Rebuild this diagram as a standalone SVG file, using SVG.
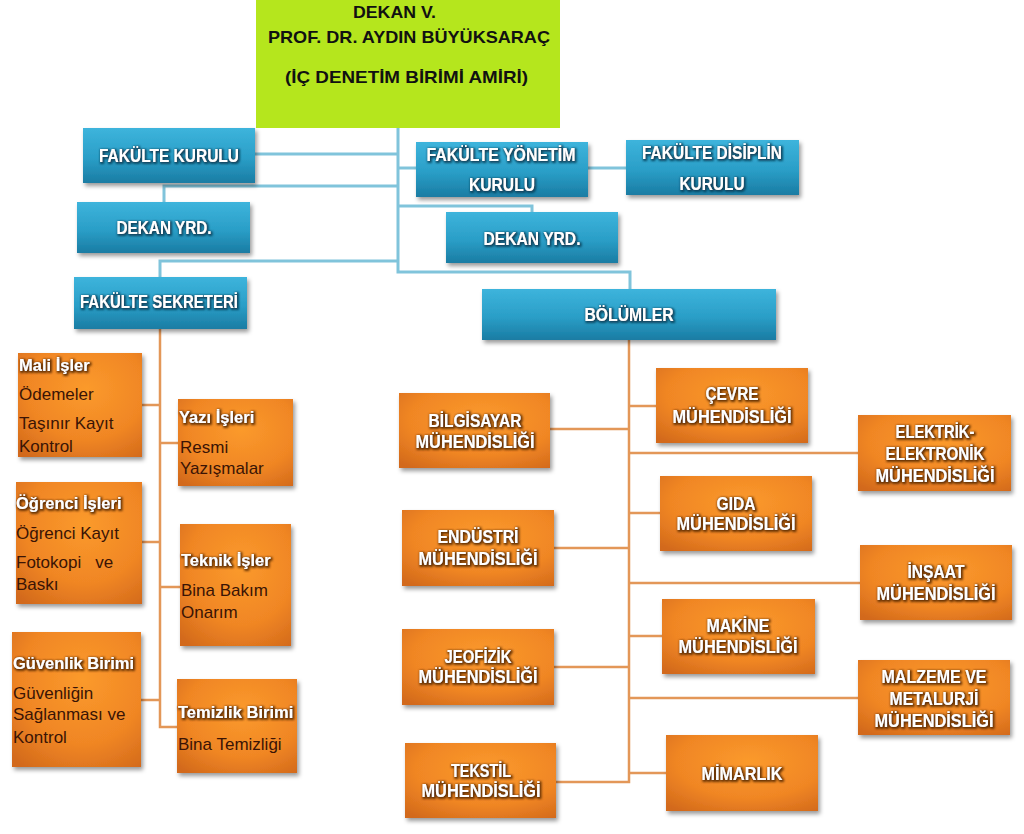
<svg xmlns="http://www.w3.org/2000/svg" width="1024" height="834" viewBox="0 0 1024 834">
<defs>
<linearGradient id="gBlue" x1="0" y1="0" x2="0" y2="1">
<stop offset="0" stop-color="#3db4dc"/>
<stop offset="0.55" stop-color="#2a9ec7"/>
<stop offset="1" stop-color="#1a7ca3"/>
</linearGradient>
<radialGradient id="gOrange" cx="0.55" cy="0.35" r="0.8">
<stop offset="0" stop-color="#fb9a2c"/>
<stop offset="0.6" stop-color="#f08624"/>
<stop offset="1" stop-color="#d2691b"/>
</radialGradient>
<filter id="shadow" x="-10%" y="-10%" width="125%" height="135%">
<feDropShadow dx="2" dy="3" stdDeviation="2" flood-color="#000" flood-opacity="0.4"/>
</filter>
<filter id="haloO" x="-10%" y="-40%" width="120%" height="180%">
<feMorphology in="SourceAlpha" operator="dilate" radius="1" result="d"/>
<feOffset in="d" dx="0.8" dy="0.8" result="o"/>
<feGaussianBlur in="o" stdDeviation="0.9" result="b"/>
<feFlood flood-color="#5a2a05" flood-opacity="0.9"/>
<feComposite in2="b" operator="in" result="s"/>
<feMerge><feMergeNode in="s"/><feMergeNode in="SourceGraphic"/></feMerge>
</filter>
<filter id="haloB" x="-10%" y="-40%" width="120%" height="180%">
<feMorphology in="SourceAlpha" operator="dilate" radius="1" result="d"/>
<feOffset in="d" dx="0.8" dy="0.8" result="o"/>
<feGaussianBlur in="o" stdDeviation="0.9" result="b"/>
<feFlood flood-color="#0b3e57" flood-opacity="0.9"/>
<feComposite in2="b" operator="in" result="s"/>
<feMerge><feMergeNode in="s"/><feMergeNode in="SourceGraphic"/></feMerge>
</filter>
</defs>
<style>
.blue{fill:url(#gBlue);filter:url(#shadow)}
.org{fill:url(#gOrange);filter:url(#shadow)}
.bt{font-family:"Liberation Sans",Arial,sans-serif;font-weight:bold;font-size:19px;fill:#fff;text-anchor:middle;filter:url(#haloB)}
.ot{font-family:"Liberation Sans",Arial,sans-serif;font-weight:bold;font-size:17.5px;fill:#fff;text-anchor:middle;filter:url(#haloO)}
.lt{font-family:"Liberation Sans",Arial,sans-serif;font-weight:bold;font-size:16.5px;fill:#fff;filter:url(#haloO)}
.it{font-family:"Liberation Sans",Arial,sans-serif;font-size:17px;fill:#3a1405}
.gt{font-family:"Liberation Sans",Arial,sans-serif;font-weight:bold;font-size:17px;fill:#111}
.cb{fill:none;stroke:#80c4db;stroke-width:3}
.co{fill:none;stroke:#e39758;stroke-width:2.5}
</style>
<rect width="1024" height="834" fill="#fff"/>

<g id="connectors">
<path class="cb" d="M398 128 V272 H630 V289"/>
<path class="cb" d="M255 154 H398"/>
<path class="cb" d="M398 168 H416"/>
<path class="cb" d="M588 168 H626"/>
<path class="cb" d="M398 186 H164 V202"/>
<path class="cb" d="M398 206 H532 V212"/>
<path class="cb" d="M398 261 H160 V277"/>
<path class="co" d="M160 329 V727 H177"/>
<path class="co" d="M142 405 H160 M160 443 H178 M142 542 H160 M160 587 H180 M141 700 H160"/>
<path class="co" d="M629 340 V782 H556"/>
<path class="co" d="M629 773 H666 M550 429 H629 M629 406 H656 M629 453 H858 M629 513 H660 M554 548 H629 M629 583 H860 M629 636 H662 M554 667 H629 M629 698 H858"/>
</g>

<g id="dekan">
<rect x="256" y="0" width="304" height="128" fill="#b5e61d"/>
<text class="gt" x="353" y="18" textLength="83" lengthAdjust="spacingAndGlyphs">DEKAN V.</text>
<text class="gt" x="268" y="43" textLength="282" lengthAdjust="spacingAndGlyphs">PROF. DR. AYDIN BÜYÜKSARAÇ</text>
<text class="gt" x="285" y="83" textLength="243" lengthAdjust="spacingAndGlyphs">(İÇ DENETİM BİRİMİ AMİRİ)</text>
</g>

<g id="fakulte-kurulu">
<rect class="blue" x="83" y="128" width="172" height="55"/>
<text class="bt" x="169" y="162" textLength="140" lengthAdjust="spacingAndGlyphs">FAKÜLTE KURULU</text>
</g>
<g id="fakulte-yonetim-kurulu">
<rect class="blue" x="416" y="142" width="172" height="55"/>
<text class="bt" x="501" y="161" textLength="149" lengthAdjust="spacingAndGlyphs">FAKÜLTE YÖNETİM</text>
<text class="bt" x="502" y="191" textLength="66" lengthAdjust="spacingAndGlyphs">KURULU</text>
</g>
<g id="fakulte-disiplin-kurulu">
<rect class="blue" x="626" y="140" width="173" height="55"/>
<text class="bt" x="712" y="159" textLength="140" lengthAdjust="spacingAndGlyphs">FAKÜLTE DİSİPLİN</text>
<text class="bt" x="712" y="190" textLength="65" lengthAdjust="spacingAndGlyphs">KURULU</text>
</g>
<g id="dekan-yrd-1">
<rect class="blue" x="77" y="202" width="173" height="51"/>
<text class="bt" x="164" y="234" textLength="95" lengthAdjust="spacingAndGlyphs">DEKAN YRD.</text>
</g>
<g id="dekan-yrd-2">
<rect class="blue" x="446" y="212" width="172" height="51"/>
<text class="bt" x="532" y="245" textLength="97" lengthAdjust="spacingAndGlyphs">DEKAN YRD.</text>
</g>
<g id="fakulte-sekreteri">
<rect class="blue" x="74" y="277" width="173" height="52"/>
<text class="bt" x="159" y="308" textLength="158" lengthAdjust="spacingAndGlyphs">FAKÜLTE SEKRETERİ</text>
</g>
<g id="bolumler">
<rect class="blue" x="482" y="289" width="294" height="51"/>
<text class="bt" x="629" y="321" textLength="89" lengthAdjust="spacingAndGlyphs">BÖLÜMLER</text>
</g>

<g id="mali-isler">
<rect class="org" x="18" y="353" width="124" height="104"/>
<text class="lt" x="19" y="371">Mali İşler</text>
<text class="it" x="19" y="400">Ödemeler</text>
<text class="it" x="19" y="429">Taşınır Kayıt</text>
<text class="it" x="19" y="452">Kontrol</text>
</g>
<g id="yazi-isleri">
<rect class="org" x="178" y="399" width="115" height="87"/>
<text class="lt" x="179" y="423">Yazı İşleri</text>
<text class="it" x="180" y="453">Resmi</text>
<text class="it" x="180" y="474">Yazışmalar</text>
</g>
<g id="ogrenci-isleri">
<rect class="org" x="16" y="482" width="126" height="122"/>
<text class="lt" x="16" y="509">Öğrenci İşleri</text>
<text class="it" x="16" y="539">Öğrenci Kayıt</text>
<text class="it" x="16" y="568" xml:space="preserve">Fotokopi   ve</text>
<text class="it" x="16" y="590">Baskı</text>
</g>
<g id="teknik-isler">
<rect class="org" x="180" y="524" width="111" height="122"/>
<text class="lt" x="181" y="566">Teknik İşler</text>
<text class="it" x="181" y="596">Bina Bakım</text>
<text class="it" x="181" y="618">Onarım</text>
</g>
<g id="guvenlik-birimi">
<rect class="org" x="12" y="632" width="129" height="135"/>
<text class="lt" x="13" y="669">Güvenlik Birimi</text>
<text class="it" x="13" y="699">Güvenliğin</text>
<text class="it" x="13" y="720">Sağlanması ve</text>
<text class="it" x="13" y="743">Kontrol</text>
</g>
<g id="temizlik-birimi">
<rect class="org" x="177" y="679" width="120" height="94"/>
<text class="lt" x="178" y="718">Temizlik Birimi</text>
<text class="it" x="178" y="750">Bina Temizliği</text>
</g>

<g id="bilgisayar">
<rect class="org" x="399" y="393" width="151" height="75"/>
<text class="ot" x="475" y="427" textLength="93" lengthAdjust="spacingAndGlyphs">BİLGİSAYAR</text>
<text class="ot" x="475" y="448" textLength="119" lengthAdjust="spacingAndGlyphs">MÜHENDİSLİĞİ</text>
</g>
<g id="cevre">
<rect class="org" x="656" y="368" width="152" height="75"/>
<text class="ot" x="732" y="400" textLength="53" lengthAdjust="spacingAndGlyphs">ÇEVRE</text>
<text class="ot" x="732" y="423" textLength="119" lengthAdjust="spacingAndGlyphs">MÜHENDİSLİĞİ</text>
</g>
<g id="elektrik">
<rect class="org" x="858" y="415" width="153" height="76"/>
<text class="ot" x="935" y="438" textLength="79" lengthAdjust="spacingAndGlyphs">ELEKTRİK-</text>
<text class="ot" x="935" y="460" textLength="99" lengthAdjust="spacingAndGlyphs">ELEKTRONİK</text>
<text class="ot" x="935" y="482" textLength="119" lengthAdjust="spacingAndGlyphs">MÜHENDİSLİĞİ</text>
</g>
<g id="gida">
<rect class="org" x="660" y="476" width="152" height="75"/>
<text class="ot" x="736" y="510" textLength="39" lengthAdjust="spacingAndGlyphs">GIDA</text>
<text class="ot" x="736" y="530" textLength="119" lengthAdjust="spacingAndGlyphs">MÜHENDİSLİĞİ</text>
</g>
<g id="endustri">
<rect class="org" x="402" y="510" width="152" height="76"/>
<text class="ot" x="478" y="543" textLength="81" lengthAdjust="spacingAndGlyphs">ENDÜSTRİ</text>
<text class="ot" x="478" y="565" textLength="119" lengthAdjust="spacingAndGlyphs">MÜHENDİSLİĞİ</text>
</g>
<g id="insaat">
<rect class="org" x="860" y="545" width="152" height="75"/>
<text class="ot" x="936" y="578" textLength="57" lengthAdjust="spacingAndGlyphs">İNŞAAT</text>
<text class="ot" x="936" y="600" textLength="119" lengthAdjust="spacingAndGlyphs">MÜHENDİSLİĞİ</text>
</g>
<g id="makine">
<rect class="org" x="662" y="599" width="153" height="75"/>
<text class="ot" x="738" y="632" textLength="63" lengthAdjust="spacingAndGlyphs">MAKİNE</text>
<text class="ot" x="738" y="653" textLength="119" lengthAdjust="spacingAndGlyphs">MÜHENDİSLİĞİ</text>
</g>
<g id="jeofizik">
<rect class="org" x="402" y="629" width="152" height="76"/>
<text class="ot" x="478" y="663" textLength="67" lengthAdjust="spacingAndGlyphs">JEOFİZİK</text>
<text class="ot" x="478" y="683" textLength="119" lengthAdjust="spacingAndGlyphs">MÜHENDİSLİĞİ</text>
</g>
<g id="malzeme">
<rect class="org" x="858" y="660" width="152" height="75"/>
<text class="ot" x="934" y="683" textLength="105" lengthAdjust="spacingAndGlyphs">MALZEME VE</text>
<text class="ot" x="934" y="705" textLength="89" lengthAdjust="spacingAndGlyphs">METALURJİ</text>
<text class="ot" x="934" y="727" textLength="119" lengthAdjust="spacingAndGlyphs">MÜHENDİSLİĞİ</text>
</g>
<g id="mimarlik">
<rect class="org" x="666" y="735" width="152" height="76"/>
<text class="ot" x="742" y="780" textLength="81" lengthAdjust="spacingAndGlyphs">MİMARLIK</text>
</g>
<g id="tekstil">
<rect class="org" x="405" y="743" width="151" height="75"/>
<text class="ot" x="481" y="777" textLength="60" lengthAdjust="spacingAndGlyphs">TEKSTİL</text>
<text class="ot" x="481" y="797" textLength="119" lengthAdjust="spacingAndGlyphs">MÜHENDİSLİĞİ</text>
</g>
</svg>
